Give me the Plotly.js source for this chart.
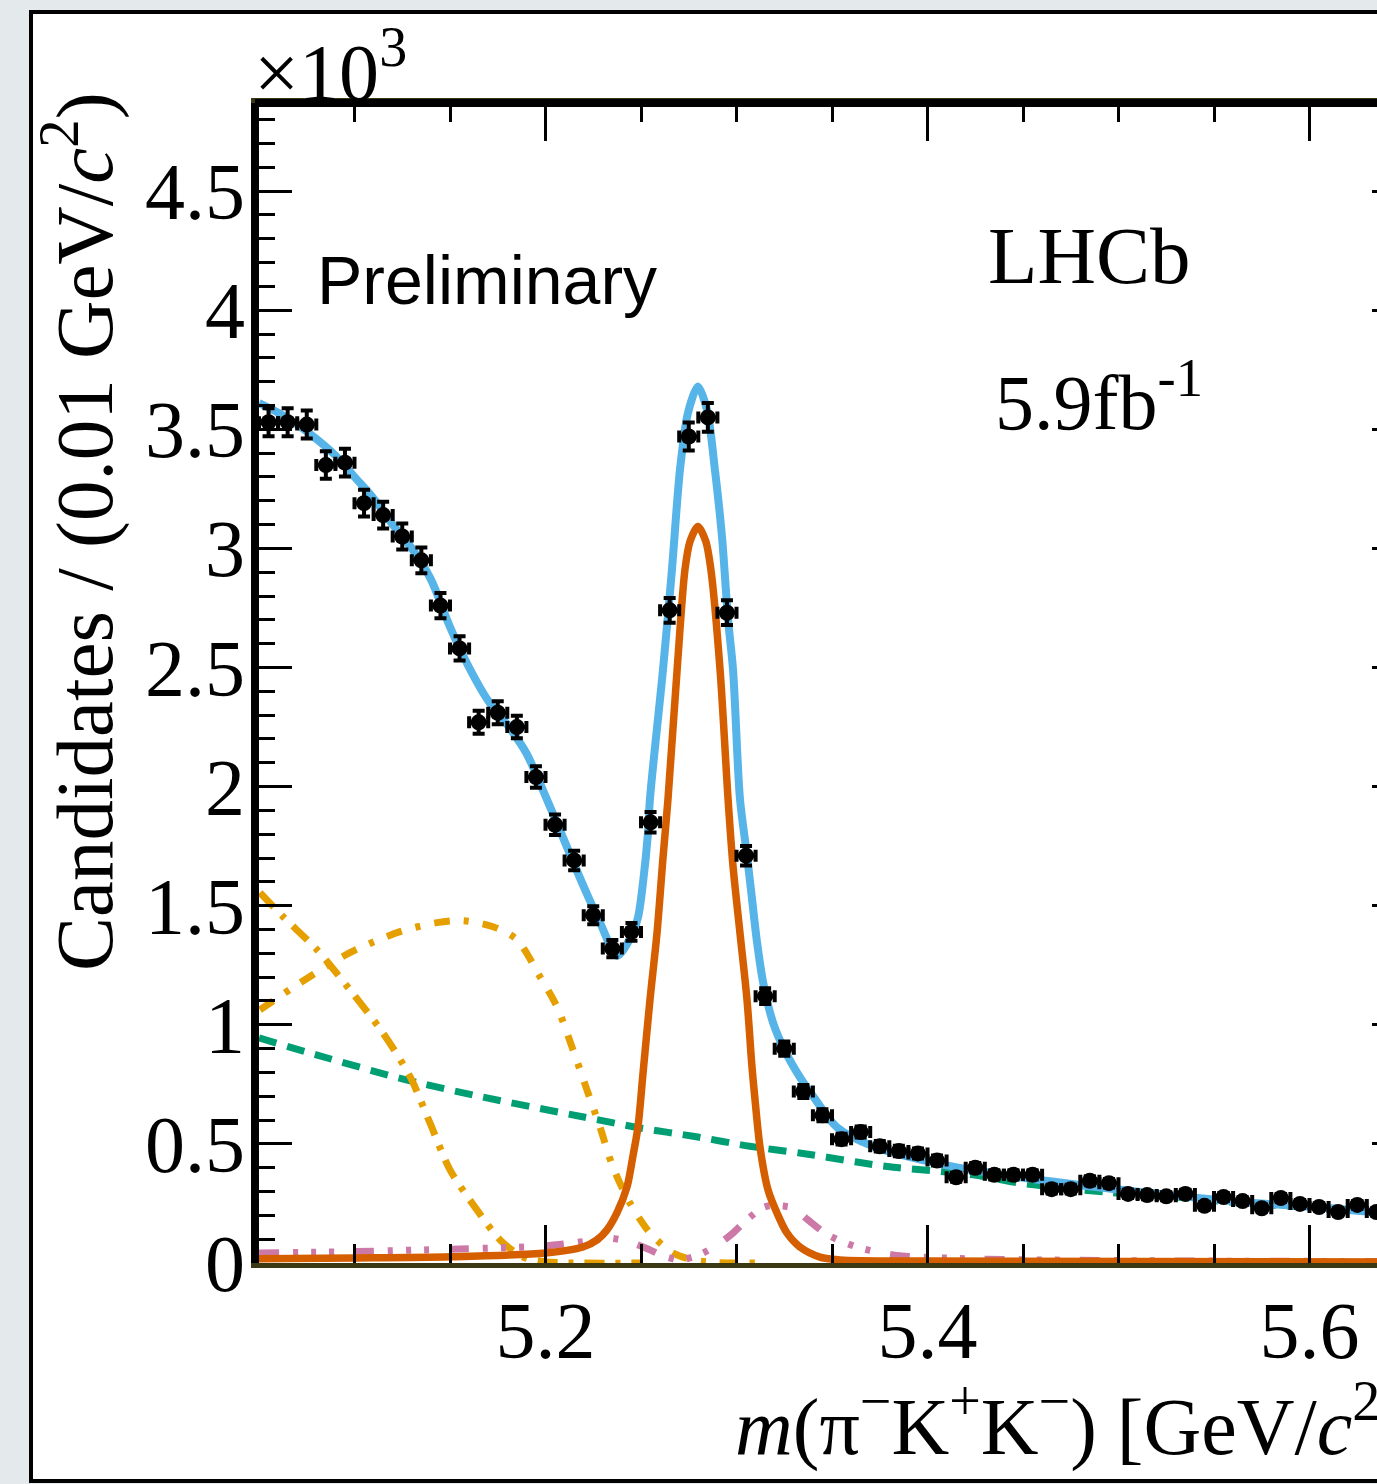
<!DOCTYPE html>
<html>
<head>
<meta charset="utf-8">
<script src="https://cdn.plot.ly/plotly-3.0.1.min.js"></script>
<style>
  html, body { margin: 0; padding: 0; width: 1377px; height: 1484px; overflow: hidden; background: #e4eaeb; }
  #frame { position: absolute; left: 29px; top: 10px; width: 1500px; height: 1473px; box-sizing: border-box; border: 4px solid #000; background: #fff; }
  #plot { position: absolute; left: 0; top: 0; width: 1420px; height: 1465px; }
</style>
</head>
<body>
<div id="frame"><div id="plot"></div></div>
<script>
// ---- data points (bin centres, GeV/c^2) and candidates (x10^3) ----
const binMass = [5.055,5.065,5.075,5.085,5.095,5.105,5.115,5.125,5.135,5.145,
                 5.155,5.165,5.175,5.185,5.195,5.205,5.215,5.225,5.235,5.245,
                 5.255,5.265,5.275,5.285,5.295,5.305,5.315,5.325,5.335,5.345,
                 5.355,5.365,5.375,5.385,5.395,5.405,5.415,5.425,5.435,5.445,
                 5.455,5.465,5.475,5.485,5.495,5.505,5.515,5.525,5.535,5.545,
                 5.555,5.565,5.575,5.585,5.595,5.605,5.615,5.625,5.635];
const binCounts = [3.53,3.53,3.52,3.35,3.36,3.19,3.14,3.05,2.95,2.76,
                   2.58,2.27,2.31,2.25,2.04,1.84,1.69,1.46,1.32,1.39,
                   1.85,2.74,3.47,3.55,2.73,1.71,1.12,0.90,0.72,0.62,
                   0.52,0.55,0.49,0.47,0.46,0.43,0.36,0.40,0.37,0.37,
                   0.37,0.31,0.31,0.345,0.335,0.29,0.285,0.28,0.29,0.24,
                   0.277,0.26,0.23,0.273,0.248,0.235,0.214,0.244,0.214];
const binErrors = [0.059,0.059,0.059,0.058,0.058,0.056,0.056,0.055,0.054,0.053,
                   0.051,0.048,0.048,0.047,0.045,0.043,0.041,0.038,0.036,0.037,
                   0.043,0.052,0.059,0.060,0.052,0.041,0.033,0.030,0.027,0.025,
                   0.023,0.023,0.022,0.022,0.021,0.021,0.019,0.020,0.019,0.019,
                   0.019,0.018,0.018,0.019,0.018,0.017,0.017,0.017,0.017,0.015,
                   0.017,0.016,0.015,0.017,0.016,0.015,0.015,0.016,0.015];
const binHalfWidth = 0.005;

// ---- total fit (blue) ----
const totalMass = [5.050,5.060,5.070,5.080,5.090,5.100,5.110,5.120,5.130,5.140,
                   5.150,5.160,5.170,5.180,5.190,5.200,5.210,5.220,5.2285,5.2374,
                   5.2442,5.2484,5.2511,5.2537,5.2547,5.2615,5.2662,5.2704,5.2746,5.2798,
                   5.2846,5.2887,5.2924,5.2956,5.2982,5.3018,5.3055,5.3081,5.3107,5.3139,
                   5.3191,5.3254,5.3332,5.3410,5.3526,5.3715,5.4100,5.4484,5.4872,5.5259,
                   5.5641,5.6029,5.6348,5.650];
const totalFit = [3.61,3.57,3.52,3.46,3.39,3.30,3.21,3.10,3.00,2.87,
                  2.67,2.50,2.36,2.26,2.14,1.96,1.77,1.58,1.43,1.29,
                  1.36,1.45,1.60,1.81,1.95,2.49,2.91,3.33,3.57,3.68,
                  3.58,3.33,3.05,2.70,2.49,1.95,1.71,1.53,1.35,1.18,
                  1.01,0.89,0.78,0.69,0.57,0.49,0.41,0.36,0.32,0.286,
                  0.256,0.235,0.214,0.208];

// ---- signal (solid vermillion) ----
const sigMass = [5.050,5.100,5.150,5.200,5.2196,5.2270,5.2322,5.2374,5.2427,5.2458,
                 5.2484,5.2511,5.2547,5.2584,5.2615,5.2641,5.2689,5.2730,5.2757,5.2798,
                 5.2839,5.2866,5.2914,5.2956,5.2982,5.3018,5.3055,5.3081,5.3097,5.3123,
                 5.3165,5.3212,5.3264,5.3332,5.3437,5.3542,5.400,5.650];
const sigFit = [0.018,0.021,0.026,0.042,0.067,0.097,0.139,0.21,0.32,0.45,
                0.57,0.80,1.105,1.387,1.70,1.945,2.49,2.91,3.03,3.092,
                3.03,2.91,2.49,1.945,1.664,1.387,1.105,0.824,0.685,0.487,
                0.307,0.21,0.126,0.067,0.025,0.013,0.008,0.004];

// ---- combinatorial background (green dashed) ----
const combMass = [5.050,5.080,5.127,5.167,5.220,5.2495,5.279,5.307,5.333,5.363,
                  5.379,5.424,5.448,5.493,5.526,5.564,5.603,5.650];
const combFit = [0.945,0.874,0.769,0.697,0.613,0.567,0.530,0.490,0.462,0.424,
                 0.405,0.370,0.336,0.298,0.280,0.252,0.232,0.205];

// ---- partially reconstructed background 1 (orange long dash-dot) ----
const part1Mass = [5.0505,5.0626,5.0804,5.0976,5.1149,5.1291,5.1395,5.1500,5.1641,5.1762,
                   5.1882,5.200,5.250];
const part1Fit = [1.555,1.454,1.315,1.147,0.966,0.782,0.588,0.391,0.223,0.097,
                  0.025,0.005,0.0];

// ---- partially reconstructed background 2 (orange dash-dot hump) ----
const part2Mass = [5.0505,5.0715,5.0976,5.1238,5.1432,5.1568,5.1725,5.1851,5.1971,5.2060,
                   5.2144,5.2217,5.2285,5.2353,5.2442,5.2547,5.2668,5.2772,5.290,5.310];
const part2Fit = [1.063,1.176,1.303,1.391,1.429,1.437,1.412,1.357,1.202,1.076,
                  0.895,0.727,0.571,0.403,0.252,0.126,0.042,0.013,0.002,0.0];

// ---- misidentified background (pink dash-dot-dot) ----
const misidMass = [5.050,5.100,5.150,5.200,5.220,5.2327,5.2442,5.2547,5.2615,5.2704,
                   5.2772,5.2825,5.2898,5.2982,5.3045,5.3134,5.3175,5.3296,5.3374,5.3479,
                   5.3631,5.3819,5.420,5.500,5.650];
const misidFit = [0.042,0.048,0.058,0.072,0.090,0.105,0.088,0.055,0.030,0.013,
                  0.025,0.042,0.075,0.126,0.175,0.231,0.240,0.231,0.181,0.118,
                  0.067,0.034,0.018,0.010,0.006];

// ---- axis setup ----
const xRange = [5.05, 5.65];
const yRange = [0, 4.87];

// page-pixel helpers for text placement (plot area: x 259..1405, y 103..1263)
const PX = (px) => (px - 259) / 1146;
const PY = (py) => (1263 - py) / 1160;

const serif = 'Liberation Serif, Times New Roman, serif';
const sans = 'Liberation Sans, Arial, sans-serif';

const traces = [
  { x: combMass, y: combFit, mode: 'lines', line: { color: '#009e73', width: 7, dash: '18px,11px', shape: 'spline', smoothing: 0.8 } },
  { x: part1Mass, y: part1Fit, mode: 'lines', line: { color: '#e69f00', width: 7, dash: '20px,11px,5px,11px', shape: 'spline', smoothing: 0.8 } },
  { x: part2Mass, y: part2Fit, mode: 'lines', line: { color: '#e69f00', width: 7, dash: '16px,14px,5px,14px', shape: 'spline', smoothing: 0.8 } },
  { x: misidMass, y: misidFit, mode: 'lines', line: { color: '#cc79a7', width: 7, dash: '20px,14px,5px,13px,5px,13px,5px,20px', shape: 'spline', smoothing: 0.8 } },
  { x: sigMass, y: sigFit, mode: 'lines', line: { color: '#d55e00', width: 7.5, shape: 'spline', smoothing: 0.8 } },
  { x: totalMass, y: totalFit, mode: 'lines', line: { color: '#56b4e9', width: 8, shape: 'spline', smoothing: 0.8 } },
  { x: binMass, y: binCounts, mode: 'markers',
    marker: { color: '#000', size: 16 },
    error_y: { type: 'data', array: binErrors, visible: true, color: '#000', thickness: 4, width: 6 },
    error_x: { type: 'constant', value: binHalfWidth, visible: true, color: '#000', thickness: 4, width: 6 } }
];

const layout = {
  width: 1420, height: 1465,
  margin: { l: 226, r: 48, t: 89, b: 216 },
  paper_bgcolor: 'rgba(0,0,0,0)',
  plot_bgcolor: '#fff',
  showlegend: false,
  font: { family: serif, color: '#000' },
  xaxis: {
    range: xRange, autorange: false, automargin: false,
    showgrid: false, zeroline: false,
    showline: true, linecolor: '#3b3914', linewidth: 5, mirror: 'ticks',
    ticks: 'inside', ticklen: 38, tickwidth: 3, tickcolor: '#000',
    tick0: 5.2, dtick: 0.2,
    minor: { ticks: 'inside', dtick: 0.05, tick0: 5.0, ticklen: 19, tickwidth: 3, tickcolor: '#000', showgrid: false },
    tickfont: { family: serif, size: 80, color: '#000' },
    ticklabelstandoff: -6
  },
  yaxis: {
    range: yRange, autorange: false, automargin: false,
    showgrid: false, zeroline: false,
    showline: true, linecolor: '#000', linewidth: 8, mirror: 'ticks',
    ticks: 'inside', ticklen: 33, tickwidth: 3, tickcolor: '#000',
    tick0: 0, dtick: 0.5,
    minor: { ticks: 'inside', dtick: 0.1, ticklen: 16, tickwidth: 3, tickcolor: '#000', showgrid: false },
    tickfont: { family: serif, size: 80, color: '#000' },
    ticklabelstandoff: -10
  },
  shapes: [
    { type: 'line', xref: 'paper', yref: 'paper', x0: -0.0035, x1: 1.05, y0: 1, y1: 1, line: { color: '#000', width: 8 }, layer: 'above' }
  ],
  annotations: [
    { text: '×10<sup>3</sup>', xref: 'paper', yref: 'paper', x: PX(252), y: PY(66), xanchor: 'left', yanchor: 'middle', showarrow: false, font: { family: serif, size: 80, color: '#000' } },
    { text: 'Candidates / (0.01 GeV/<i>c</i><sup>2</sup>)', xref: 'paper', yref: 'paper', x: PX(78), y: PY(532), xanchor: 'center', yanchor: 'middle', textangle: -90, showarrow: false, font: { family: serif, size: 81, color: '#000' } },
    { text: '<i>m</i>(π<sup>−</sup>K<sup>+</sup>K<sup>−</sup>) [GeV/<i>c</i><sup>2</sup>]', xref: 'paper', yref: 'paper', x: PX(733), y: PY(1421), xanchor: 'left', yanchor: 'middle', showarrow: false, font: { family: serif, size: 80, color: '#000' } },
    { text: 'Preliminary', xref: 'paper', yref: 'paper', x: PX(315), y: PY(280), xanchor: 'left', yanchor: 'middle', showarrow: false, font: { family: sans, size: 68, color: '#000' } },
    { text: 'LHCb', xref: 'paper', yref: 'paper', x: PX(986), y: PY(256), xanchor: 'left', yanchor: 'middle', showarrow: false, font: { family: serif, size: 81, color: '#000' } },
    { text: '5.9fb<sup>-1</sup>', xref: 'paper', yref: 'paper', x: PX(993), y: PY(396), xanchor: 'left', yanchor: 'middle', showarrow: false, font: { family: serif, size: 78, color: '#000' } }
  ]
};

Plotly.newPlot('plot', traces, layout, { staticPlot: true, displayModeBar: false });
</script>
</body>
</html>
